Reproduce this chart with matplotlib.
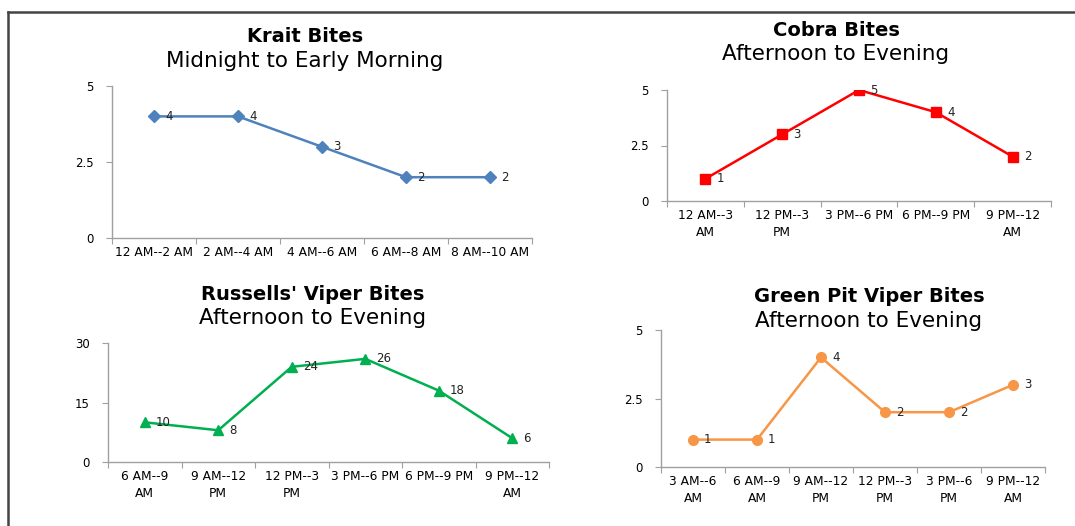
import numpy as np
import matplotlib.pyplot as plt
from matplotlib.lines import Line2D

W, H = 1075, 526

krait_slots = ["12 AM--2 AM", "2 AM--4 AM", "4 AM--6 AM", "6 AM--8 AM", "8 AM--10 AM"]
krait_bites = [4, 4, 3, 2, 2]

cobra_slots = ["12 AM--3\nAM", "12 PM--3\nPM", "3 PM--6 PM", "6 PM--9 PM", "9 PM--12\nAM"]
cobra_bites = [1, 3, 5, 4, 2]

russell_slots = ["6 AM--9\nAM", "9 AM--12\nPM", "12 PM--3\nPM", "3 PM--6 PM",
                 "6 PM--9 PM", "9 PM--12\nAM"]
russell_bites = [10, 8, 24, 26, 18, 6]

pit_slots = ["3 AM--6\nAM", "6 AM--9\nAM", "9 AM--12\nPM", "12 PM--3\nPM",
             "3 PM--6\nPM", "9 PM--12\nAM"]
pit_bites = [1, 1, 4, 2, 2, 3]

plt.rcParams['font.family'] = ['DejaVu Sans']


def px_axes(fig, x0, y0, x1, y1):
    """Add an axes from pixel box (left, top, right, bottom)."""
    return fig.add_axes([x0 / W, 1 - y1 / H, (x1 - x0) / W, (y1 - y0) / H])


def draw_panel(fig, box, slots, bites, color, marker, ms, ymax, title, subtitle, tpos):
    ax = px_axes(fig, *box)
    n = len(slots)
    x = np.arange(n)
    ax.plot(x, bites, color=color, lw=1.8, marker=marker, ms=ms, zorder=3)
    for i, v in enumerate(bites):
        ax.annotate(str(v), (i, v), xytext=(8, 0), textcoords='offset points',
                    va='center', ha='left', fontsize=8.5, color='#222222')
    ax.set_xlim(-0.5, n - 0.5)
    ax.set_ylim(0, ymax)
    yt = [0, ymax / 2, ymax]
    ax.set_yticks(yt)
    ax.set_yticklabels([f"{t:g}" for t in yt], fontsize=8.5)
    ax.set_xticks(np.arange(n + 1) - 0.5)
    ax.set_xticklabels([])
    ax.set_xticks(x, minor=True)
    ax.set_xticklabels(slots, minor=True, fontsize=8.8, linespacing=1.35)
    ax.tick_params(axis='x', which='major', length=4, color='#a0a0a0')
    ax.tick_params(axis='x', which='minor', length=0, pad=6)
    ax.tick_params(axis='y', length=4, color='#a0a0a0', pad=9)
    for s in ['top', 'right']:
        ax.spines[s].set_visible(False)
    for s in ['left', 'bottom']:
        ax.spines[s].set_color('#a0a0a0')
        ax.spines[s].set_linewidth(1.0)
    ax.patch.set_alpha(0)
    tx, ty = tpos
    fig.text(tx / W, 1 - ty / H, title, ha='center', va='center',
             fontsize=14, fontweight='bold')
    fig.text(tx / W, 1 - (ty + 24) / H, subtitle, ha='center', va='center',
             fontsize=15.5)
    return ax


fig = plt.figure(figsize=(W / 100, H / 100), dpi=100)

# outer frame: top and left edges
fig.add_artist(Line2D([8 / W, 1], [1 - 12 / H, 1 - 12 / H], color='#444444', lw=1.8))
fig.add_artist(Line2D([8 / W, 8 / W], [0, 1 - 12 / H], color='#444444', lw=1.8))

draw_panel(fig, (112, 86, 532, 238), krait_slots, krait_bites, '#4F81BD', 'D', 6, 5,
           'Krait Bites', 'Midnight to Early Morning', (305, 37))
draw_panel(fig, (667, 90, 1051, 201), cobra_slots, cobra_bites, '#FF0000', 's', 7, 5,
           'Cobra Bites', 'Afternoon to Evening', (836, 30))
draw_panel(fig, (108, 343, 549, 462), russell_slots, russell_bites, '#00B050', '^', 7, 30,
           "Russells' Viper Bites", 'Afternoon to Evening', (313, 294))
draw_panel(fig, (661, 330, 1045, 467), pit_slots, pit_bites, '#F79646', 'o', 7, 5,
           'Green Pit Viper Bites', 'Afternoon to Evening', (869, 297))

fig.savefig('out.png', dpi=100)
